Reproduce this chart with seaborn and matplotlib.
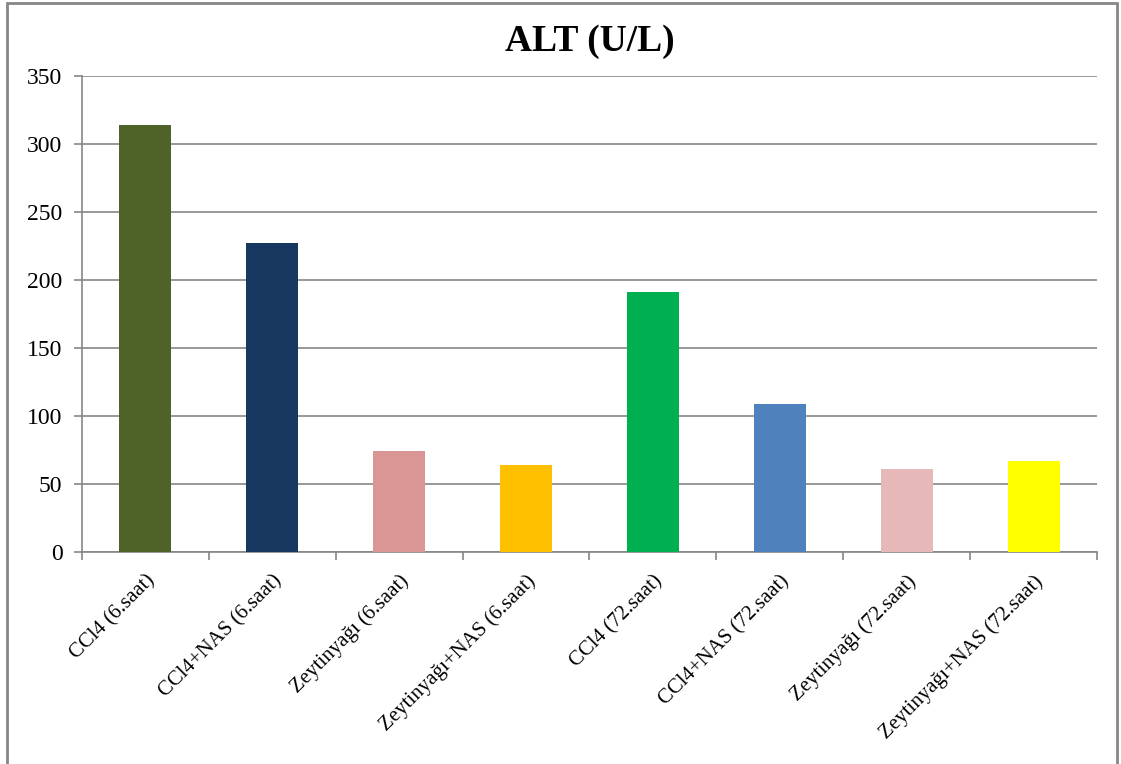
import pandas as pd
import numpy as np
import seaborn as sns
import matplotlib.pyplot as plt
from matplotlib.patches import Rectangle

groups = ['CCl4 (6.saat)', 'CCl4+NAS (6.saat)', 'Zeytinyağı (6.saat)', 'Zeytinyağı+NAS (6.saat)',
          'CCl4 (72.saat)', 'CCl4+NAS (72.saat)', 'Zeytinyağı (72.saat)', 'Zeytinyağı+NAS (72.saat)']
alt_values = [314, 227, 74, 64, 191, 109, 61, 67]
bar_colors = ['#4F6228', '#17375E', '#D99694', '#FFC000', '#00B050', '#4F81BD', '#E6B9B8', '#FFFF00']
y_ticks = [0, 50, 100, 150, 200, 250, 300, 350]

df = pd.DataFrame({'group': groups, 'alt': alt_values})

sns.set_style('white')
plt.rcParams['font.family'] = ['Liberation Serif', 'DejaVu Serif']
plt.rcParams['text.color'] = 'black'
plt.rcParams['xtick.labelcolor'] = 'black'
plt.rcParams['ytick.labelcolor'] = 'black'

fig = plt.figure(figsize=(11.21, 7.64), dpi=100)
ax = fig.add_axes([0.0731, 0.2775, 0.9055, 0.623])

sns.barplot(data=df, x='group', y='alt', hue='group', palette=bar_colors,
            legend=False, width=0.41, saturation=1, linewidth=0, ax=ax, zorder=3)

ax.set_ylim(0, 350)
ax.set_yticks(y_ticks)
ax.set_xlim(-0.5, len(groups) - 0.5)
ax.yaxis.grid(True, color='#868686', linewidth=1.2, zorder=0)
ax.set_axisbelow(True)

for side in ['top', 'right']:
    ax.spines[side].set_visible(False)
for side in ['left', 'bottom']:
    ax.spines[side].set_color('#868686')
    ax.spines[side].set_linewidth(1.2)

ax.set_xticks(np.arange(len(groups)))
ax.set_xticklabels(groups, rotation=45, ha='right', rotation_mode='anchor', fontsize=15)
ax.tick_params(axis='x', length=0, pad=14)
ax.set_xticks(np.arange(len(groups) + 1) - 0.5, minor=True)
ax.tick_params(axis='x', which='minor', length=6, color='#868686', width=1.2, bottom=True)
ax.tick_params(axis='y', length=6, color='#868686', width=1.2, labelsize=17, pad=8, left=True)

ax.set_xlabel('')
ax.set_ylabel('')
ax.set_title('ALT (U/L)', fontsize=27, fontweight='bold', pad=18, color='black')

fig.patches.append(Rectangle((0.006, -0.01), 0.99, 1.006, transform=fig.transFigure,
                             fill=False, edgecolor='#868686', linewidth=2))

fig.savefig('out.png', dpi=100)
